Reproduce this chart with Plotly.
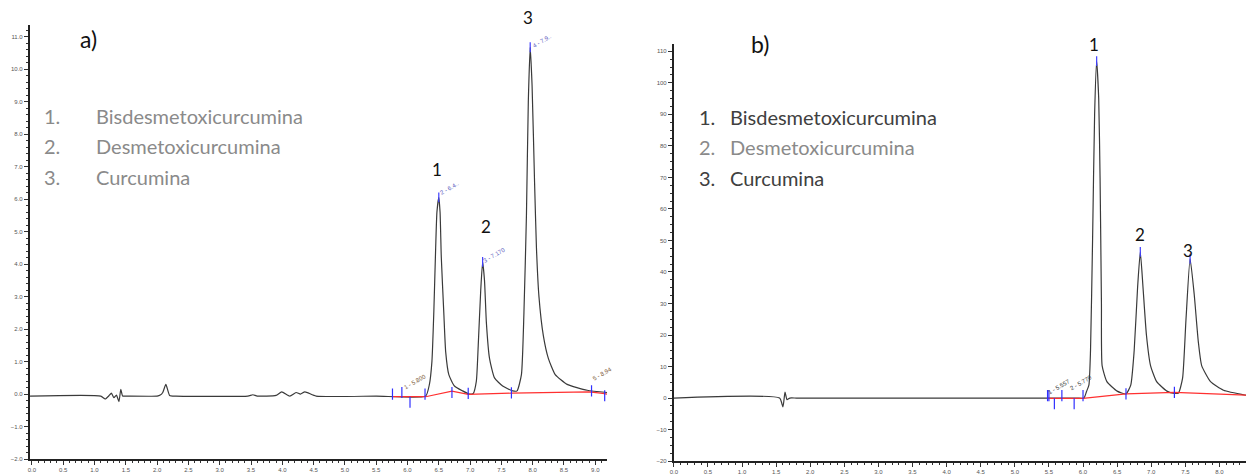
import plotly.graph_objects as go

W, H = 1248, 475

# ---------------- data ----------------
# Panel a) chromatogram: time (min) and signal
a_time = [-0.03, 1.10, 1.17, 1.23, 1.27, 1.31, 1.35, 1.39, 1.42, 1.45, 1.50, 2.00, 2.05, 2.09, 2.14, 2.20,
          2.30, 3.45, 3.53, 3.60, 3.90, 3.99, 4.12, 4.22, 4.29, 4.36, 4.54, 5.50, 6.29, 6.35, 6.39, 6.42,
          6.45, 6.47, 6.50, 6.52, 6.54, 6.58, 6.61, 6.66, 6.75, 6.88, 6.99, 7.05, 7.10, 7.13, 7.17, 7.20,
          7.23, 7.26, 7.31, 7.39, 7.52, 7.68, 7.75, 7.82, 7.86, 7.90, 7.93, 7.96, 7.99, 8.03, 8.06, 8.10,
          8.17, 8.25, 8.36, 8.55, 8.87, 9.19]
a_signal = [-0.06, -0.06, -0.15, -0.05, 0.03, -0.11, -0.03, -0.23, 0.15, -0.06, -0.06, -0.06, -0.03, 0.05, 0.30, -0.04,
            -0.06, -0.06, -0.02, -0.06, -0.04, 0.07, -0.06, 0.05, 0.00, 0.07, -0.06, -0.06, -0.06, 0.30, 1.00, 2.50,
            4.50, 5.60, 6.05, 5.60, 4.20, 2.50, 1.30, 0.60, 0.25, 0.10, 0.00, 0.02, 0.40, 1.50, 3.20, 4.07,
            3.50, 2.20, 1.10, 0.50, 0.25, 0.10, 0.10, 0.60, 2.50, 5.50, 9.00, 10.67, 9.50, 6.50, 4.50, 3.00,
            1.80, 1.10, 0.60, 0.30, 0.12, 0.05]
a_base_time = [5.76, 6.29, 6.71, 6.97, 7.66, 7.96, 8.90, 9.12, 9.19]
a_base_signal = [-0.08, -0.08, 0.09, -0.01, 0.03, 0.04, 0.07, 0.02, 0.00]
a_mark_time = [5.76, 5.91, 6.04, 6.28, 6.71, 6.97, 7.66, 8.94, 9.15]
a_mark_signal = [0.0, 0.05, -0.25, 0.0, 0.05, 0.02, 0.04, 0.1, -0.05]
a_peak_time = [6.50, 7.20, 7.96]
a_peak_signal = [6.05, 4.07, 10.67]

# Panel b) chromatogram
b_time = [0.00, 1.55, 1.60, 1.63, 1.66, 1.70, 1.80, 5.90, 6.013, 6.05, 6.086, 6.11, 6.14, 6.17, 6.20, 6.23,
          6.25, 6.27, 6.28, 6.35, 6.50, 6.63, 6.70, 6.75, 6.80, 6.84, 6.88, 6.93, 6.99, 7.08, 7.23, 7.34,
          7.40, 7.46, 7.51, 7.57, 7.63, 7.69, 7.74, 7.87, 8.06, 8.39]
b_signal = [0.0, 0.0, -2.8, 1.9, -0.5, 0.0, 0.0, 0.0, 0.0, 2.0, 4.1, 15.0, 50.0, 90.0, 106.9, 95.0,
            70.0, 30.0, 10.3, 5.2, 2.2, 1.3, 4.1, 15.0, 35.0, 46.4, 35.0, 20.0, 10.3, 5.2, 2.2, 1.5,
            1.6, 6.3, 25.0, 44.2, 33.0, 18.0, 10.3, 5.2, 2.5, 0.9]
b_base_time = [5.48, 6.00, 6.63, 7.34, 8.39]
b_base_signal = [-0.1, -0.1, 1.35, 1.8, 0.94]
b_mark_time = [5.48, 5.50, 5.58, 5.69, 5.87, 6.00, 6.63, 7.34]
b_mark_signal = [0.8, 0.8, -1.8, 0.8, -1.8, 0.8, 1.35, 1.8]
b_peak_time = [6.20, 6.84, 7.57]
b_peak_signal = [106.9, 46.4, 44.2]

# Legend / labels
compounds = ["Bisdesmetoxicurcumina", "Desmetoxicurcumina", "Curcumina"]
peak_numbers = ["1", "2", "3"]

# ---------------- figure ----------------
def px(x):
    return x / W

def py(y):
    return 1 - y / H

fig = go.Figure()
line_col = "#3a3a3a"

for xa, ya, t, s in [("x", "y", a_time, a_signal), ("x2", "y2", b_time, b_signal)]:
    fig.add_trace(go.Scatter(x=t, y=s, xaxis=xa, yaxis=ya, mode="lines",
                             line=dict(color=line_col, width=1.2, shape="spline", smoothing=0.5),
                             hoverinfo="skip"))

for xa, ya, t, s in [("x", "y", a_base_time, a_base_signal), ("x2", "y2", b_base_time, b_base_signal)]:
    fig.add_trace(go.Scatter(x=t, y=s, xaxis=xa, yaxis=ya, mode="lines",
                             line=dict(color="#ff3030", width=1.2), hoverinfo="skip"))

for xa, ya, t, s in [("x", "y", a_mark_time, a_mark_signal), ("x2", "y2", b_mark_time, b_mark_signal)]:
    fig.add_trace(go.Scatter(x=t, y=s, xaxis=xa, yaxis=ya, mode="markers",
                             marker=dict(symbol="line-ns", size=8, line=dict(color="#3030ff", width=1.2)),
                             hoverinfo="skip"))

for xa, ya, t, s in [("x", "y", a_peak_time, a_peak_signal), ("x2", "y2", b_peak_time, b_peak_signal)]:
    fig.add_trace(go.Scatter(x=t, y=s, xaxis=xa, yaxis=ya, mode="markers",
                             marker=dict(symbol="line-ns", size=7, line=dict(color="#4040ff", width=1.2)),
                             hoverinfo="skip"))

axis_common = dict(showgrid=False, zeroline=False, showline=True, linecolor="#222", linewidth=2,
                   ticks="outside", ticklen=4, tickcolor="#333", tickwidth=1,
                   tickfont=dict(family="Liberation Sans", size=6, color="#555"))

fig.update_layout(
    width=W, height=H, margin=dict(l=0, r=0, t=0, b=0),
    paper_bgcolor="white", plot_bgcolor="white", showlegend=False,
    xaxis=dict(domain=[px(26), px(605)], range=[-0.032, 9.188], anchor="y", dtick=0.5, tickformat=".1f",
               minor=dict(dtick=0.1, ticks="outside", ticklen=2, tickcolor="#333"), **axis_common),
    yaxis=dict(domain=[1 - 465 / H, 1 - 25 / H], range=[-2, 11.365], anchor="x", dtick=1, tickformat=".1f",
               minor=dict(dtick=0.2, ticks="outside", ticklen=2, tickcolor="#333"), **axis_common),
    xaxis2=dict(domain=[px(672), px(1246)], range=[0, 8.39], anchor="y2", dtick=0.5, tickformat=".1f",
                minor=dict(dtick=0.1, ticks="outside", ticklen=2, tickcolor="#333"), **axis_common),
    yaxis2=dict(domain=[1 - 467 / H, 1 - 45 / H], range=[-20, 112.19], anchor="x2", dtick=10, tickformat="d",
                minor=dict(dtick=2.5, ticks="outside", ticklen=2, tickcolor="#333"), **axis_common),
)

ann = []
font_main = "Lato"
# panel letters
ann.append(dict(x=px(85), y=py(40), text="a)", font=dict(family=font_main, size=23, color="#111")))
ann.append(dict(x=px(758), y=py(45), text="b)", font=dict(family=font_main, size=23, color="#111")))

# peak numbers
a_num_pos = [(434, 172), (484, 229), (526, 18)]
b_num_pos = [(1094, 45), (1140, 237), (1188, 254)]
for lbl, (x, y) in zip(peak_numbers, a_num_pos):
    ann.append(dict(x=px(x), y=py(y), text=lbl, font=dict(family=font_main, size=17, color="#111")))
for lbl, (x, y) in zip(peak_numbers, b_num_pos):
    ann.append(dict(x=px(x), y=py(y), text=lbl, font=dict(family=font_main, size=17, color="#111")))

# compound lists
a_cols = ["#8a8a8a", "#8a8a8a", "#8a8a8a"]
b_cols = ["#404040", "#8a8a8a", "#404040"]
for i, (name, ca, cb) in enumerate(zip(compounds, a_cols, b_cols)):
    ya = 117 + 31 * i
    yb = 118 + 31 * i
    ann.append(dict(x=px(38), y=py(ya), text=f"{i+1}.", xanchor="left", font=dict(family=font_main, size=20, color=ca)))
    ann.append(dict(x=px(90), y=py(ya), text=name, xanchor="left", font=dict(family=font_main, size=20, color=ca)))
    ann.append(dict(x=px(695), y=py(yb), text=f"{i+1}.", xanchor="left", font=dict(family=font_main, size=20, color=cb)))
    ann.append(dict(x=px(726), y=py(yb), text=name, xanchor="left", font=dict(family=font_main, size=20, color=cb)))

# tiny integration tags
tags = [(px(412), py(387), "1 - 5.800", "#806040"), (px(447), py(190), "2 - 6.4..", "#6060c0"),
        (px(492), py(258), "3 - 7.170", "#6060c0"), (px(540), py(42), "4 - 7.9..", "#6060c0"),
        (px(600), py(379), "5 - 8.94", "#806040"),
        (px(1058), py(392), "1 - 5.557", "#404040"), (px(1080), py(388), "2 - 5.770", "#404040")]
for x, y, t, c in tags:
    ann.append(dict(x=x, y=y, text=t, textangle=-30, font=dict(family="Liberation Sans", size=6, color=c)))

for a in ann:
    a.setdefault("xref", "paper")
    a.setdefault("yref", "paper")
    a.setdefault("xanchor", "center")
    a["yanchor"] = "middle"
    a["showarrow"] = False
fig.update_layout(annotations=ann)

fig.write_html("out.html")
